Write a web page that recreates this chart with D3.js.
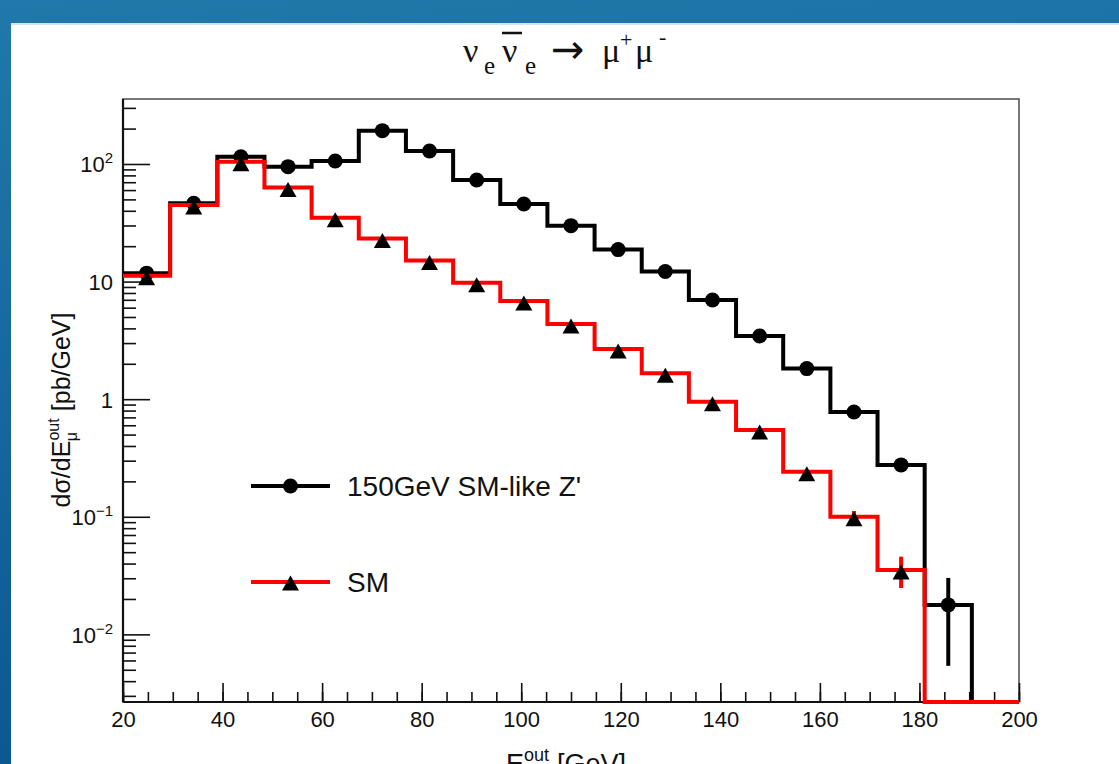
<!DOCTYPE html>
<html><head><meta charset="utf-8">
<script src="https://cdn.jsdelivr.net/npm/d3@7"></script>
<style>body{margin:0;overflow:hidden;background:#fff} svg{display:block}</style>
</head><body>
<svg id="c" width="1119" height="764"></svg>
<script>
// ---- data ----
const binEdges = [20, 29.47, 38.95, 48.42, 57.89, 67.37, 76.84, 86.32, 95.79, 105.26,
                  114.74, 124.21, 133.68, 143.16, 152.63, 162.11, 171.58, 181.05, 190.53, 200];
const zprimeValues = [11.8, 46.4, 115, 94.9, 106, 192, 129, 73.1, 45.7, 29.9,
                      18.7, 12.2, 6.98, 3.45, 1.82, 0.778, 0.276, 0.0178, 0];
const zprimeErrors = [0, 0, 0, 0, 0, 0, 0, 0, 0, 0,
                      0, 0, 0, 0, 0, 0, 0, 0.0124, 0];
const smValues = [11.2, 44.8, 104.6, 63, 34.9, 23.3, 15.1, 9.79, 6.84, 4.36,
                  2.67, 1.66, 0.952, 0.547, 0.242, 0.100, 0.0353, 0, 0];
const smErrors = [0, 0, 0, 0, 0, 0, 0, 0, 0, 0,
                  0, 0, 0, 0, 0, 0.012, 0.0105, 0, 0];
const xMajorTicks = [20, 40, 60, 80, 100, 120, 140, 160, 180, 200];
const xMinorTicks = d3.range(20, 201, 5);
const yTickValues = [0.01, 0.1, 1, 10, 100];
const yTickLabels = [["10", "\u22122"], ["10", "\u22121"], ["1", ""], ["10", ""], ["10", "2"]];
const legendLabels = ["150GeV SM-like Z'", "SM"];
const xDomain = [20, 200];
const yDomain = [0.00266, 357];

// ---- layout ----
const svg = d3.select("#c");
const L = 123, R = 1019, T = 99, B = 702;
const x = d3.scaleLinear(xDomain, [L, R]);
const y = d3.scaleLog(yDomain, [B, T]);
const SANS = "'Liberation Sans', Arial, Helvetica, sans-serif";
const SERIF = "'Liberation Serif', 'DejaVu Serif', serif";

// background
const defs = svg.append("defs");
const g = defs.append("linearGradient").attr("id", "bg").attr("x1", 0).attr("y1", 0).attr("x2", 0.15).attr("y2", 1);
g.append("stop").attr("offset", 0).attr("stop-color", "#2079aa");
g.append("stop").attr("offset", 1).attr("stop-color", "#0b5792");
svg.append("rect").attr("width", 1119).attr("height", 764).attr("fill", "url(#bg)");
svg.append("rect").attr("x", 11).attr("y", 23).attr("width", 1108).attr("height", 741).attr("fill", "#fff");
svg.append("rect").attr("x", 11).attr("y", 23).attr("width", 1108).attr("height", 2).attr("fill", "#d3e3ee");

// frame
svg.append("rect").attr("x", L).attr("y", T).attr("width", R - L).attr("height", B - T)
  .attr("fill", "none").attr("stroke", "#555").attr("stroke-width", 1.6);

// axes
function styleAxis(sel) {
  sel.selectAll(".domain").remove();
  sel.selectAll(".tick line").attr("stroke", "#111").attr("stroke-width", 1.6);
}
svg.append("g").attr("transform", `translate(0,${B})`)
  .call(d3.axisBottom(x).tickValues(xMinorTicks).tickSize(-10).tickFormat(""))
  .call(styleAxis);
const xa = svg.append("g").attr("transform", `translate(0,${B})`)
  .call(d3.axisBottom(x).tickValues(xMajorTicks).tickSize(-19).tickPadding(9).tickFormat(d3.format("d")))
  .call(styleAxis);
xa.selectAll("text").attr("font-family", SANS).attr("font-size", 22).attr("fill", "#111").attr("dy", "0.71em");

const yMinor = y.ticks().filter(v => Math.abs(Math.log10(v) - Math.round(Math.log10(v))) > 1e-6);
svg.append("g").attr("transform", `translate(${L},0)`)
  .call(d3.axisLeft(y).tickValues(yMinor).tickSize(-13).tickFormat(""))
  .call(styleAxis);
const ya = svg.append("g").attr("transform", `translate(${L},0)`)
  .call(d3.axisLeft(y).tickValues(yTickValues).tickSize(-27).tickPadding(9).tickFormat(""))
  .call(styleAxis);
ya.selectAll(".tick").each(function (d) {
  const lab = yTickLabels[yTickValues.indexOf(d)];
  const t = d3.select(this).select("text").attr("font-family", SANS).attr("fill", "#111")
    .attr("x", -10).attr("dy", null).attr("y", 8).attr("text-anchor", "end");
  t.append("tspan").attr("font-size", 22).text(lab[0]);
  if (lab[1]) t.append("tspan").attr("font-size", 15).attr("dy", -9).text(lab[1]);
});

// axis lines
svg.append("line").attr("x1", L).attr("x2", R).attr("y1", B).attr("y2", B).attr("stroke", "#111").attr("stroke-width", 2.2);
svg.append("line").attr("x1", L).attr("x2", L).attr("y1", T).attr("y2", B).attr("stroke", "#111").attr("stroke-width", 2.2);

// ---- histograms ----
const yv = v => (v > 0 ? y(v) : B);
function stepPts(vals) {
  const pts = vals.map((v, i) => [binEdges[i], v]);
  pts.push([binEdges[vals.length], vals[vals.length - 1]]);
  return pts;
}
const stepLine = d3.line().x(d => x(d[0])).y(d => yv(d[1])).curve(d3.curveStepAfter);
const centers = binEdges.slice(0, -1).map((e, i) => (e + binEdges[i + 1]) / 2);

function drawSeries(vals, errs, color) {
  svg.append("path").attr("d", stepLine(stepPts(vals))).attr("fill", "none")
    .attr("stroke", color).attr("stroke-width", 4).attr("stroke-linejoin", "miter");
  const idx = vals.map((v, i) => i).filter(i => vals[i] > 0);
  svg.append("g").selectAll("line").data(idx.filter(i => errs[i] > 0)).join("line")
    .attr("x1", i => x(centers[i])).attr("x2", i => x(centers[i]))
    .attr("y1", i => y(vals[i] + errs[i])).attr("y2", i => y(Math.max(vals[i] - errs[i], yDomain[0])))
    .attr("stroke", color).attr("stroke-width", 4);
  return idx;
}
function triPath(cx, cy) {
  const w = 17, h = 15, off = 2;
  return `M${cx},${cy - h / 2 + off}L${cx + w / 2},${cy + h / 2 + off}L${cx - w / 2},${cy + h / 2 + off}Z`;
}

const zIdx = drawSeries(zprimeValues, zprimeErrors, "#000");
svg.append("g").selectAll("circle").data(zIdx).join("circle")
  .attr("cx", i => x(centers[i])).attr("cy", i => y(zprimeValues[i])).attr("r", 7.5).attr("fill", "#000");
const sIdx = drawSeries(smValues, smErrors, "#ff0000");
svg.append("g").selectAll("path").data(sIdx).join("path")
  .attr("d", i => triPath(x(centers[i]), y(smValues[i]))).attr("fill", "#000");

// ---- legend ----
const leg = [[486, "#000", "circle"], [582, "#ff0000", "tri"]];
leg.forEach(([ly, col, m], k) => {
  svg.append("line").attr("x1", 251).attr("x2", 330).attr("y1", ly).attr("y2", ly)
    .attr("stroke", col).attr("stroke-width", 4);
  if (m === "circle") svg.append("circle").attr("cx", 290.5).attr("cy", ly).attr("r", 7.5).attr("fill", "#000");
  else svg.append("path").attr("d", triPath(290.5, ly - 1)).attr("fill", "#000");
  svg.append("text").attr("x", 347).attr("y", ly + 10).attr("font-family", SANS)
    .attr("font-size", 28).attr("fill", "#111").text(legendLabels[k]);
});

// ---- title ----
const tt = svg.append("g").attr("font-family", SERIF).attr("fill", "#111");
tt.append("text").attr("x", 463).attr("y", 62).attr("font-size", 34).text("\u03bd");
tt.append("text").attr("x", 484).attr("y", 74).attr("font-size", 25).text("e");
tt.append("text").attr("x", 502).attr("y", 62).attr("font-size", 34).text("\u03bd");
tt.append("line").attr("x1", 502).attr("x2", 522).attr("y1", 33).attr("y2", 33).attr("stroke", "#111").attr("stroke-width", 2.5);
tt.append("text").attr("x", 525).attr("y", 74).attr("font-size", 25).text("e");
tt.append("text").attr("x", 551).attr("y", 63).attr("font-size", 40).attr("font-family", "'DejaVu Sans', sans-serif").attr("textLength", 41).text("\u2192");
tt.append("text").attr("x", 602).attr("y", 62).attr("font-size", 34).text("\u03bc");
tt.append("text").attr("x", 620).attr("y", 47).attr("font-size", 22).text("+");
tt.append("text").attr("x", 635).attr("y", 62).attr("font-size", 34).text("\u03bc");
tt.append("text").attr("x", 659).attr("y", 44).attr("font-size", 22).text("-");

// ---- axis titles ----
const yt = svg.append("text").attr("transform", "translate(70,410) rotate(-90)")
  .attr("text-anchor", "middle").attr("font-family", SANS).attr("font-size", 25).attr("fill", "#111");
yt.append("tspan").text("d\u03c3/dE");
yt.append("tspan").attr("font-size", 16).attr("dy", -11).text("out");
yt.append("tspan").attr("font-size", 16).attr("dx", -23).attr("dy", 18).text("\u03bc");
yt.append("tspan").attr("dx", 14).attr("dy", -7).text(" [pb/GeV]");

const xt = svg.append("text").attr("x", 566).attr("y", 773).attr("text-anchor", "middle")
  .attr("font-family", SANS).attr("font-size", 27).attr("fill", "#111");
xt.append("tspan").text("E");
xt.append("tspan").attr("font-size", 18).attr("dy", -12).text("out");
xt.append("tspan").attr("font-size", 18).attr("dx", -25).attr("dy", 19).text("\u03bc");
xt.append("tspan").attr("dx", 15).attr("dy", -7).text(" [GeV]");
</script>
</body></html>
